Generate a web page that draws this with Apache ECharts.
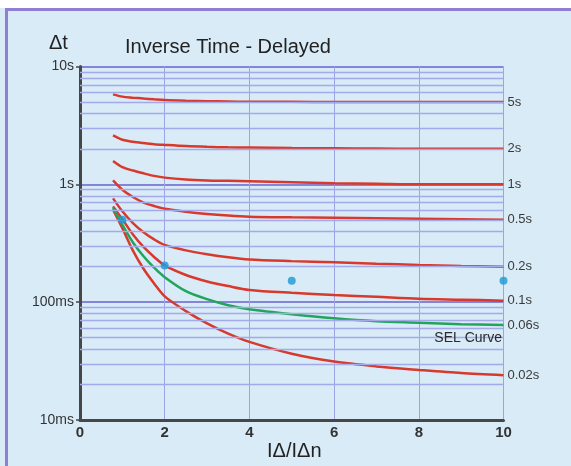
<!DOCTYPE html>
<html>
<head>
<meta charset="utf-8">
<script src="https://cdn.jsdelivr.net/npm/echarts@6/dist/echarts.min.js"></script>
<style>
html,body{margin:0;padding:0;background:#fff;}
#c{width:571px;height:466px;}
</style>
</head>
<body>
<div id="c"></div>
<script>
// ---- data ----
const curveX    = [0.78, 1, 1.25, 1.5, 1.75, 2, 2.5, 3, 3.5, 4, 5, 6, 7, 8, 9, 10];
const curve5s   = [5.8, 5.55, 5.44, 5.35, 5.27, 5.2, 5.13, 5.08, 5.05, 5.02, 5.01, 5.0, 5.0, 5.0, 5.0, 5.0];
const curve2s   = [2.6, 2.39, 2.3, 2.24, 2.19, 2.16, 2.11, 2.08, 2.06, 2.05, 2.03, 2.02, 2.01, 2.0, 2.0, 2.0];
const curve1s   = [1.58, 1.4, 1.31, 1.24, 1.18, 1.14, 1.1, 1.08, 1.07, 1.06, 1.04, 1.02, 1.01, 1.0, 1.0, 1.0];
const curve05s  = [1.08, 0.9, 0.78, 0.7, 0.655, 0.62, 0.585, 0.56, 0.543, 0.532, 0.525, 0.52, 0.515, 0.51, 0.505, 0.5];
const curve02s  = [0.76, 0.59, 0.469, 0.392, 0.341, 0.306, 0.275, 0.255, 0.24, 0.23, 0.223, 0.218, 0.212, 0.207, 0.203, 0.2];
const curve01s  = [0.65, 0.506, 0.375, 0.294, 0.242, 0.205, 0.17, 0.15, 0.137, 0.127, 0.12, 0.115, 0.111, 0.107, 0.105, 0.103];
const curveSEL  = [0.63, 0.453, 0.321, 0.245, 0.196, 0.163, 0.124, 0.106, 0.094, 0.087, 0.079, 0.073, 0.069, 0.067, 0.065, 0.064];
const curve002s = [0.61, 0.425, 0.274, 0.192, 0.144, 0.112, 0.084, 0.066, 0.054, 0.046, 0.0365, 0.0313, 0.0285, 0.0266, 0.025, 0.024];
const redCurves = [curve5s, curve2s, curve1s, curve05s, curve02s, curve01s, curve002s];
const redLabels = ['5s', '2s', '1s', '0.5s', '0.2s', '0.1s', '0.02s'];
const selLabel = '0.06s';
const dotX = [1, 2, 5, 10];
const dotY = [0.5, 0.205, 0.152, 0.152];
const yTickValues = [0.01, 0.1, 1, 10];
const yTickLabels = ['10ms', '100ms', '1s', '10s'];
const minorGridValues = [];
[0.01, 0.1, 1].forEach(d => { for (let k = 2; k <= 9; k++) minorGridValues.push(+(d * k).toPrecision(3)); });
const xTicks = [0, 2, 4, 6, 8, 10];

// ---- chart ----
const FONT = '"Liberation Sans", Arial, sans-serif';
const RED = '#d8392c', GREEN = '#22a55a';
const zip = ys => curveX.map((x, i) => [x, ys[i]]);

const series = [];
series.push({
  type: 'line', data: [], z: 1, silent: true,
  markLine: {
    silent: true, symbol: ['none', 'none'], animation: false,
    label: { show: false },
    lineStyle: { color: '#a3a9e9', width: 1.3, type: 'solid' },
    data: minorGridValues.map(v => ({ yAxis: v }))
  }
});
redCurves.forEach((ys, i) => {
  series.push({
    type: 'line', data: zip(ys), smooth: 0.3,
    showSymbol: false, symbol: 'none', z: 3,
    lineStyle: { color: RED, width: 2.5 },
    endLabel: { show: true, formatter: redLabels[i], color: '#3a3a3a', fontSize: 13, fontFamily: FONT, distance: 4 }
  });
});
series.push({
  type: 'line', data: zip(curveSEL), smooth: 0.3,
  showSymbol: false, symbol: 'none', z: 4,
  lineStyle: { color: GREEN, width: 2.5 },
  endLabel: { show: true, formatter: selLabel, color: '#3a3a3a', fontSize: 13, fontFamily: FONT, distance: 4 }
});
series.push({
  type: 'scatter', data: dotX.map((x, i) => [x, dotY[i]]), symbolSize: 8, z: 5,
  itemStyle: { color: '#1b9ad6' }
});

const chart = echarts.init(document.getElementById('c'), null, { renderer: 'canvas' });
chart.setOption({
  animation: false,
  backgroundColor: '#d8ebf7',
  textStyle: { fontFamily: FONT },
  grid: { left: 80, right: 67.5, top: 66.5, bottom: 46, containLabel: false },
  xAxis: {
    type: 'value', min: 0, max: 10, interval: 2,
    axisLine: { show: true, lineStyle: { color: '#474747', width: 3 } },
    axisTick: { show: false },
    axisLabel: { color: '#333', fontSize: 15, fontWeight: 'bold', fontFamily: FONT, margin: 5,
      formatter: v => xTicks.includes(v) ? String(v) : '' },
    splitLine: { show: true, lineStyle: { color: '#9ea3e4', width: 1 } }
  },
  yAxis: {
    type: 'log', logBase: 10, min: 0.01, max: 10,
    axisLine: { show: true, onZero: false, lineStyle: { color: '#474747', width: 3 } },
    axisTick: { show: true, length: 4, lineStyle: { color: '#474747', width: 1.5 } },
    axisLabel: { color: '#333', fontSize: 14, fontFamily: FONT, margin: 6,
      formatter: v => { const i = yTickValues.findIndex(t => Math.abs(Math.log10(t) - Math.log10(v)) < 1e-6); return i >= 0 ? yTickLabels[i] : ''; } },
    splitLine: { show: true, lineStyle: { color: '#8484da', width: 2 } }
  },
  graphic: [
    { type: 'rect', left: 0, top: 0, shape: { width: 571, height: 8 }, style: { fill: '#ffffff' }, silent: true },
    { type: 'rect', left: 5, top: 8, shape: { width: 566, height: 3 }, style: { fill: '#8f7fd5' }, silent: true },
    { type: 'rect', left: 5, top: 8, shape: { width: 3, height: 458 }, style: { fill: '#8f7fd5' }, silent: true },
    { type: 'text', left: 49, top: 33, z: 100, style: { text: 'Δt', fontSize: 20, fontFamily: FONT, fill: '#222' } },
    { type: 'text', left: 125, top: 37, z: 100, style: { text: 'Inverse Time - Delayed', fontSize: 20, fontFamily: FONT, fill: '#222' } },
    { type: 'text', left: 267, top: 441, z: 100, style: { text: 'IΔ/IΔn', fontSize: 20, fontFamily: FONT, fill: '#222' } },
    { type: 'text', right: 69, top: 331, z: 100, style: { text: 'SEL Curve', fontSize: 14, fontFamily: FONT, fill: '#2a2a2a' } }
  ],
  series: series
});
</script>
</body>
</html>
